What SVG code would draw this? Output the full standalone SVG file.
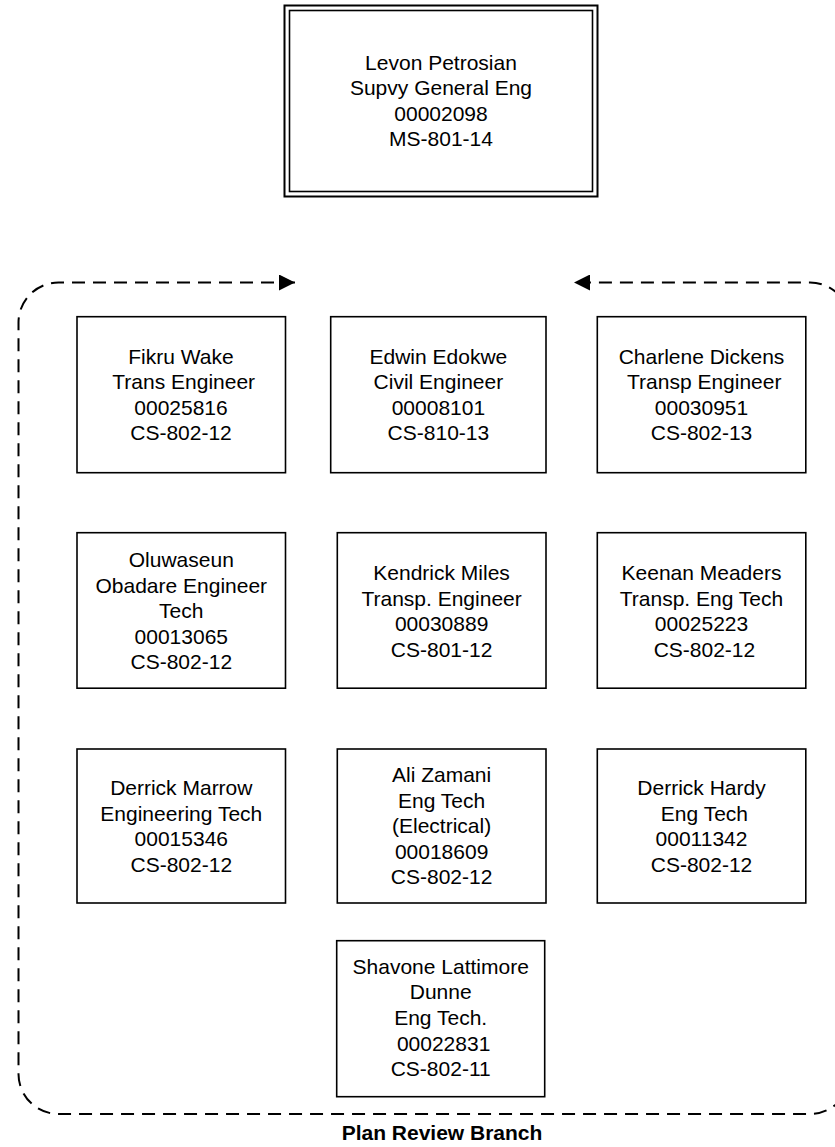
<svg xmlns="http://www.w3.org/2000/svg" width="835" height="1147" viewBox="0 0 835 1147">
<style>
.box{fill:#fff;stroke:#000;stroke-width:1.6}
.t{font-family:"Liberation Sans",Arial,sans-serif;font-size:21px;fill:#000;text-anchor:middle}
.lbl{font-family:"Liberation Sans",Arial,sans-serif;font-size:21px;font-weight:bold;fill:#000;text-anchor:middle}
.dash{fill:none;stroke:#000;stroke-width:2;stroke-dasharray:13 8}
</style>
<defs>
<marker id="ah" viewBox="0 0 16 16" refX="16" refY="8" markerWidth="16" markerHeight="16" markerUnits="userSpaceOnUse" orient="auto-start-reverse">
<path d="M0,0 L16,8 L0,16 z" fill="#000"/>
</marker>
</defs>
<rect width="835" height="1147" fill="#fff"/>
<g id="connectors">
<path class="dash" d="M295,282.5 H58.5 A40,40 0 0 0 18.5,322.5 V1074 A40,40 0 0 0 58.5,1114 H810 A40,40 0 0 0 850,1074 V322.5 A40,40 0 0 0 810,282.5 H574" marker-start="url(#ah)" marker-end="url(#ah)"/>
</g>
<g id="levon">
<rect x="284.5" y="5.5" width="313" height="191" fill="#fff" stroke="#000" stroke-width="2"/>
<rect x="289.5" y="10.5" width="303" height="181" fill="none" stroke="#000" stroke-width="1.6"/>
<text class="t" x="441"><tspan x="441" y="69.5">Levon Petrosian</tspan><tspan x="441" y="95.1">Supvy General Eng</tspan><tspan x="441" y="120.7">00002098</tspan><tspan x="441" y="146.3">MS-801-14</tspan></text>
</g>
<g id="fikru">
<rect class="box" x="77" y="316.7" width="208.5" height="156"/>
<text class="t" xml:space="preserve"><tspan x="181" y="363.5">Fikru Wake</tspan><tspan x="181" y="389.1"> Trans Engineer</tspan><tspan x="181" y="414.7">00025816</tspan><tspan x="181" y="440.3">CS-802-12</tspan></text>
</g>
<g id="edwin">
<rect class="box" x="330.7" y="316.7" width="215.3" height="156"/>
<text class="t"><tspan x="438.4" y="363.5">Edwin Edokwe</tspan><tspan x="438.4" y="389.1">Civil Engineer</tspan><tspan x="438.4" y="414.7">00008101</tspan><tspan x="438.4" y="440.3">CS-810-13</tspan></text>
</g>
<g id="charlene">
<rect class="box" x="597.3" y="316.7" width="208.5" height="156"/>
<text class="t" xml:space="preserve"><tspan x="701.5" y="363.5">Charlene Dickens</tspan><tspan x="701.5" y="389.1"> Transp Engineer</tspan><tspan x="701.5" y="414.7">00030951</tspan><tspan x="701.5" y="440.3">CS-802-13</tspan></text>
</g>
<g id="oluwaseun">
<rect class="box" x="77" y="532.7" width="208.5" height="155.5"/>
<text class="t"><tspan x="181.3" y="567">Oluwaseun</tspan><tspan x="181.3" y="592.6">Obadare Engineer</tspan><tspan x="181.3" y="618.2">Tech</tspan><tspan x="181.3" y="643.8">00013065</tspan><tspan x="181.3" y="669.4">CS-802-12</tspan></text>
</g>
<g id="kendrick">
<rect class="box" x="337.3" y="532.7" width="208.7" height="155.5"/>
<text class="t"><tspan x="441.6" y="580">Kendrick Miles</tspan><tspan x="441.6" y="605.6">Transp. Engineer</tspan><tspan x="441.6" y="631.2">00030889</tspan><tspan x="441.6" y="656.8">CS-801-12</tspan></text>
</g>
<g id="keenan">
<rect class="box" x="597.3" y="532.7" width="208.5" height="155.5"/>
<text class="t" xml:space="preserve"><tspan x="701.5" y="580">Keenan Meaders</tspan><tspan x="701.5" y="605.6">Transp. Eng Tech</tspan><tspan x="701.5" y="631.2">00025223</tspan><tspan x="701.5" y="656.8"> CS-802-12</tspan></text>
</g>
<g id="derrick-marrow">
<rect class="box" x="77" y="749" width="208.5" height="154"/>
<text class="t"><tspan x="181.3" y="795">Derrick Marrow</tspan><tspan x="181.3" y="820.6">Engineering Tech</tspan><tspan x="181.3" y="846.2">00015346</tspan><tspan x="181.3" y="871.8">CS-802-12</tspan></text>
</g>
<g id="ali">
<rect class="box" x="337.3" y="749" width="208.7" height="154"/>
<text class="t"><tspan x="441.6" y="782">Ali Zamani</tspan><tspan x="441.6" y="807.6">Eng Tech</tspan><tspan x="441.6" y="833.2">(Electrical)</tspan><tspan x="441.6" y="858.8">00018609</tspan><tspan x="441.6" y="884.4">CS-802-12</tspan></text>
</g>
<g id="derrick-hardy">
<rect class="box" x="597.3" y="749" width="208.5" height="154"/>
<text class="t" xml:space="preserve"><tspan x="701.5" y="795">Derrick Hardy</tspan><tspan x="701.5" y="820.6"> Eng Tech</tspan><tspan x="701.5" y="846.2">00011342</tspan><tspan x="701.5" y="871.8">CS-802-12</tspan></text>
</g>
<g id="shavone">
<rect class="box" x="336.7" y="940.7" width="208" height="156"/>
<text class="t" xml:space="preserve"><tspan x="440.7" y="973.8">Shavone Lattimore</tspan><tspan x="440.7" y="999.4">Dunne</tspan><tspan x="440.7" y="1025">Eng Tech.</tspan><tspan x="440.7" y="1050.6"> 00022831</tspan><tspan x="440.7" y="1076.2">CS-802-11</tspan></text>
</g>
<g id="branch-label">
<text class="lbl" x="442" y="1140">Plan Review Branch</text>
</g>
</svg>
